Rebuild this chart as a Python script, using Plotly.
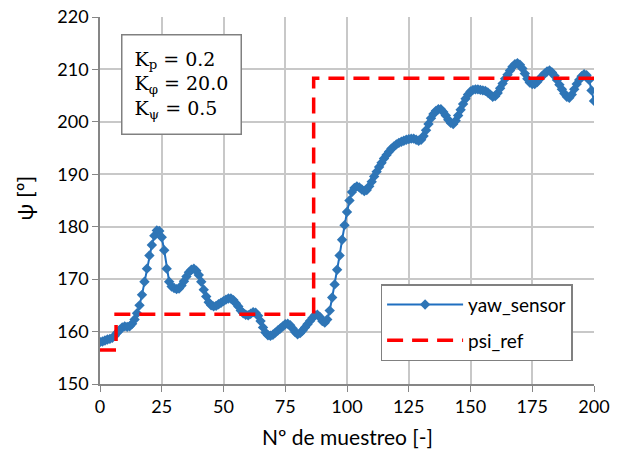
import plotly.graph_objects as go

samples = list(range(0, 201))
yaw_sensor = [
    158.0, 158.1, 158.3, 158.5, 158.6, 158.8, 159.2, 159.8, 160.3, 160.8,
    161.0, 160.9, 161.0, 161.5, 162.3, 163.5, 165.0, 167.0, 169.5, 172.0,
    174.5, 176.5, 178.3, 179.3, 179.2, 178.0, 175.5, 172.0, 169.5, 168.6,
    168.3, 168.1, 168.2, 168.8, 169.6, 170.5, 171.3, 171.8, 172.0, 171.6,
    170.8, 169.5, 168.0, 166.7, 165.6, 165.0, 164.8, 164.9, 165.2, 165.5,
    165.8, 166.1, 166.3, 166.3, 166.0, 165.4, 164.8, 164.0, 163.5, 163.2,
    163.1, 163.4, 163.7, 163.6, 163.0, 162.0, 160.8, 159.8, 159.3, 159.2,
    159.4, 159.8, 160.2, 160.6, 161.0, 161.4, 161.5, 161.2, 160.6, 159.9,
    159.5, 159.7, 160.2, 160.8, 161.4, 162.0, 162.6, 163.1, 163.2, 162.8,
    162.0, 161.7, 162.3, 164.0, 166.5, 169.0, 171.8, 174.5, 177.5, 180.3,
    182.8, 185.0, 186.6, 187.4, 187.7, 187.5, 187.1, 186.8, 187.0, 187.7,
    188.6, 189.6, 190.5, 191.4, 192.2, 193.0, 193.7, 194.3, 194.9, 195.3,
    195.7, 196.0, 196.2, 196.4, 196.6, 196.7, 196.8, 196.8, 196.6, 196.4,
    196.6, 197.3, 198.4, 199.6, 200.7, 201.5, 202.1, 202.4, 202.4, 201.9,
    201.2, 200.4, 199.8, 199.6, 200.2, 201.2, 202.3, 203.4, 204.4, 205.2,
    205.8, 206.1, 206.2, 206.2, 206.1, 206.0, 205.9, 205.6, 205.2, 204.8,
    204.9, 205.5, 206.4, 207.3, 208.2, 209.0, 209.8, 210.5, 211.0, 211.2,
    210.9, 210.2, 209.2, 208.2, 207.5, 207.2, 207.2, 207.6, 208.2, 208.7,
    209.2, 209.6, 209.8, 209.4, 208.8, 208.0, 207.1, 206.2, 205.4, 204.8,
    204.6, 205.2, 206.2, 207.2, 208.0, 208.7, 209.1, 208.9, 208.0, 206.0,
    204.0,
]

ref_x = [0, 6.5, 86.5, 200]
psi_ref = [156.5, 163.3, 208.3, 208.3]

x_ticks = [0, 25, 50, 75, 100, 125, 150, 175, 200]
y_ticks = [150, 160, 170, 180, 190, 200, 210, 220]

fig = go.Figure()
fig.add_trace(go.Scatter(
    x=samples, y=yaw_sensor, name="yaw_sensor", mode="lines+markers",
    legendgroup="a",
    line=dict(color="#1F6FC0", width=2),
    marker=dict(symbol="diamond", size=8, color="#2E75B6"),
))
fig.add_trace(go.Scatter(
    x=ref_x, y=psi_ref, name="psi_ref", mode="lines",
    legendgroup="b",
    line=dict(color="#FF0000", width=3.5, dash="16px,9px", shape="hv"),
))

font_main = "Lato, 'Open Sans', sans-serif"
grid_col = "#C8C8C8"
axis_col = "#868686"

fig.update_layout(
    width=618, height=459,
    margin=dict(l=100, r=24, t=17, b=75),
    paper_bgcolor="white", plot_bgcolor="white",
    font=dict(family=font_main, size=16, color="#000000"),
    showlegend=True,
    legend=dict(
        x=0.568, y=0.272, xanchor="left", yanchor="top",
        bgcolor="white", bordercolor="#808080", borderwidth=1.5,
        font=dict(size=19), itemwidth=76, tracegroupgap=8,
    ),
    xaxis=dict(
        range=[0, 200], tickvals=x_ticks, showgrid=True, gridcolor=grid_col,
        gridwidth=1.5, showline=True, linecolor=axis_col, linewidth=1.5,
        ticks="outside", ticklen=6, tickcolor=axis_col, zeroline=False,
        automargin=False, tickfont=dict(size=18),
    ),
    yaxis=dict(
        range=[150, 220], tickvals=y_ticks, showgrid=True, gridcolor=grid_col,
        gridwidth=1.5, showline=True, linecolor=axis_col, linewidth=1.5,
        ticks="outside", ticklen=6, tickcolor=axis_col, zeroline=False,
        automargin=False, tickfont=dict(size=18),
    ),
)

fig.add_annotation(
    xref="paper", yref="paper", x=0.5, y=-0.144, xanchor="center", yanchor="middle",
    showarrow=False, text="Nº de muestreo [-]", font=dict(size=21),
)
fig.add_annotation(
    xref="paper", yref="paper", x=-0.152, y=0.508, xanchor="center", yanchor="middle",
    showarrow=False, text="ψ [º]", font=dict(size=22), textangle=-90,
)

fig.add_annotation(
    xref="paper", yref="paper", x=0.0425, y=0.953, xanchor="left", yanchor="top",
    align="left", showarrow=False,
    text="K<sub>p</sub> = 0.2<br>K<sub>φ</sub> = 20.0<br>K<sub>ψ</sub> = 0.5",
    font=dict(family="'DejaVu Serif', 'Liberation Serif', serif", size=19, color="#000"),
    bgcolor="white", bordercolor="#808080", borderwidth=1.5, borderpad=12,
)

fig.write_html("out.html", config={"displayModeBar": False},
               post_script="document.body.style.margin='0';")
